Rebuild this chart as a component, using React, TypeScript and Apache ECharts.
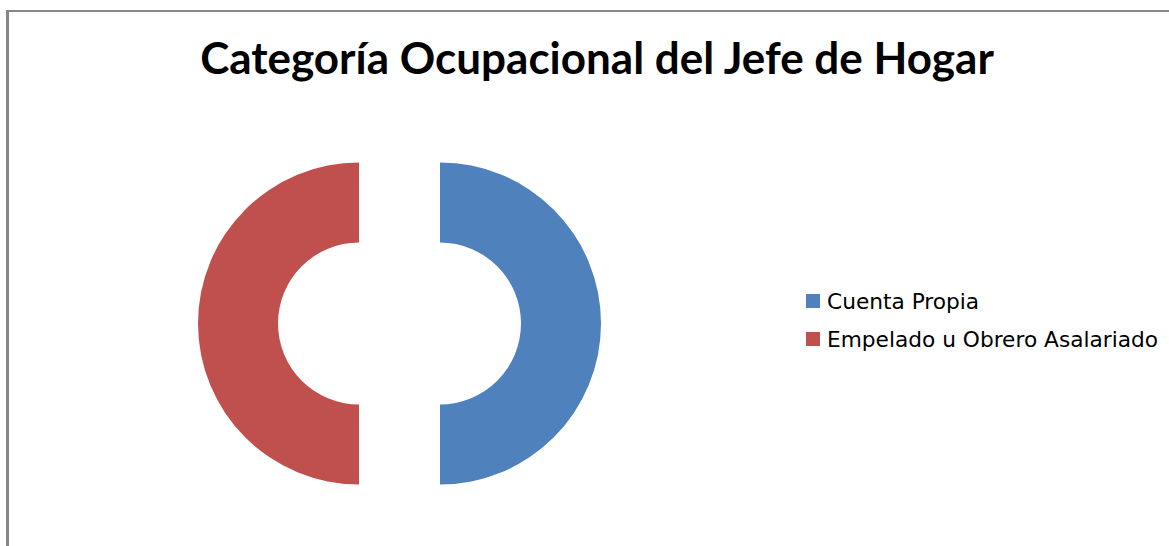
import React, { useEffect, useRef } from "react";
import * as echarts from "echarts";

const titleText = "Categoría Ocupacional del Jefe de Hogar";
const categories = ["Cuenta Propia", "Empelado u Obrero Asalariado"];
const values = [50, 50];
const colors = ["#4F81BD", "#C0504D"];

export default function App() {
  const ref = useRef<HTMLDivElement>(null);
  useEffect(() => {
    const chart = echarts.init(ref.current!, null, { renderer: "svg" });
    chart.setOption({
      animation: false,
      backgroundColor: "#ffffff",
      title: {
        text: titleText,
        left: 597,
        top: 35,
        padding: 0,
        textAlign: "center",
        textStyle: {
          fontFamily: "Lato",
          fontWeight: "bold",
          fontSize: 44,
          color: "#000000",
        },
      },
      legend: {
        orient: "vertical",
        left: 806,
        top: 290,
        padding: 0,
        itemWidth: 14,
        itemHeight: 14,
        itemGap: 16,
        icon: "rect",
        data: categories,
        selectedMode: false,
        textStyle: {
          fontFamily: "DejaVu Sans",
          fontSize: 21.7,
          lineHeight: 20,
          color: "#000000",
          padding: [0, 0, 0, 2],
        },
      },
      graphic: [
        {
          type: "line",
          shape: { x1: 7.5, y1: 11, x2: 1169, y2: 11 },
          style: { stroke: "#878787", lineWidth: 2 },
        },
        {
          type: "line",
          shape: { x1: 7.5, y1: 10, x2: 7.5, y2: 546 },
          style: { stroke: "#878787", lineWidth: 3 },
        },
      ],
      series: [
        {
          type: "pie",
          center: [399.5, 323.5],
          radius: [81, 161],
          startAngle: 90,
          clockwise: true,
          selectedMode: "multiple",
          selectedOffset: 40.5,
          label: { show: false },
          labelLine: { show: false },
          emphasis: { disabled: true },
          select: { itemStyle: { borderWidth: 0 } },
          itemStyle: { borderWidth: 0 },
          data: categories.map((name, i) => ({
            name,
            value: values[i],
            selected: true,
            itemStyle: { color: colors[i] },
            select: { itemStyle: { color: colors[i] } },
          })),
        },
      ],
    });
    return () => chart.dispose();
  }, []);
  return (
    <div
      ref={ref}
      style={{ position: "fixed", left: 0, top: 0, width: 1169, height: 546 }}
    />
  );
}
